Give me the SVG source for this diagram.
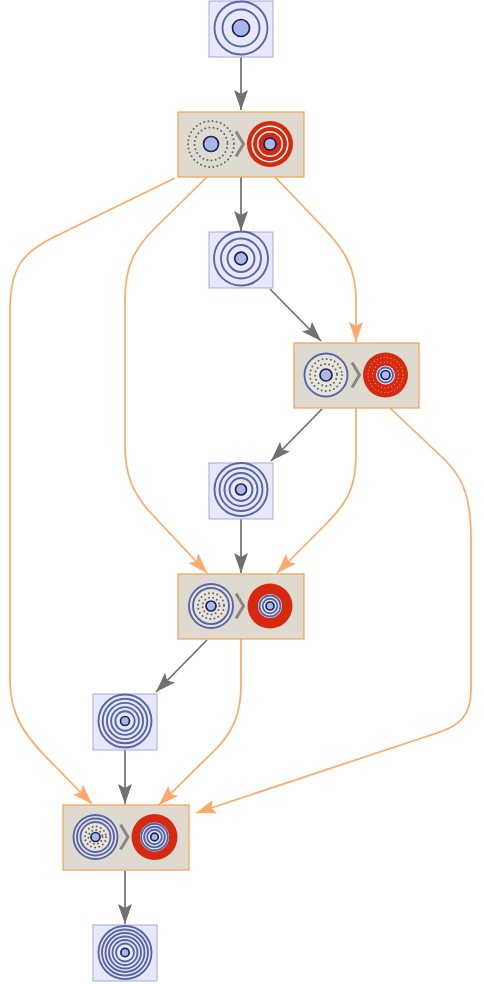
<svg xmlns="http://www.w3.org/2000/svg" width="484" height="984" viewBox="0 0 484 984">
<style>
.sbox{fill:#e7e8fa;stroke:#a3acdb;stroke-width:1}
.ring{fill:none;stroke:#5865a8;stroke-width:1.9}
.core{fill:#a9b8e8;stroke:#1b2556;stroke-width:1.7}
.rbox{fill:#dedad0;stroke:#f3a24e;stroke-width:1.2}
.disk{fill:#e6e3da}
.dots{fill:none;stroke:#666666;stroke-width:2;stroke-linecap:round;stroke-dasharray:0 4.2}
.red{fill:#d6290f}
.wring{fill:none;stroke:#ffffff;stroke-width:1.5}
.fdots{fill:none;stroke:#f2a08c;stroke-width:1.2;stroke-linecap:round;stroke-dasharray:0 3.5}
.light{fill:#e8e8f6}
.chev{fill:none;stroke:#888888;stroke-width:3}
.g{fill:none;stroke:#707070;stroke-width:1.7}
.o{fill:none;stroke:#ffa869;stroke-width:1.7}
</style>
<defs>
<marker id="ag" markerUnits="userSpaceOnUse" markerWidth="20" markerHeight="14" viewBox="0 0 20 14" refX="20" refY="7" orient="auto">
<path d="M0,0 L20,7 L0,14 L4,7 Z" fill="#707070"/>
</marker>
<marker id="ao" markerUnits="userSpaceOnUse" markerWidth="20" markerHeight="14" viewBox="0 0 20 14" refX="20" refY="7" orient="auto">
<path d="M0,0 L20,7 L0,14 L4,7 Z" fill="#ffa869"/>
</marker>
</defs>

<g id="connectors">
<path class="g" marker-end="url(#ag)" d="M241,57 L241,110"/>
<path class="g" marker-end="url(#ag)" d="M241,177 L241,231"/>
<path class="g" marker-end="url(#ag)" d="M270,289 L321,341"/>
<path class="g" marker-end="url(#ag)" d="M322,409 L271,461"/>
<path class="g" marker-end="url(#ag)" d="M241,519 L241,573"/>
<path class="g" marker-end="url(#ag)" d="M207,640 L156,692"/>
<path class="g" marker-end="url(#ag)" d="M125,750 L125,804"/>
<path class="g" marker-end="url(#ag)" d="M125,871 L125,924"/>
<path class="o" marker-end="url(#ao)" d="M275,177 L320,224 C345,250 356,268 356,300 L356,342"/>
<path class="o" marker-end="url(#ao)" d="M207,177 L155,228 C135,248 125,265 125,300 L125,445 C125,475 133,492 148,510 L207,573"/>
<path class="o" marker-end="url(#ao)" d="M175,178 L52,238 C25,252 10,265 10,310 L10,680 C10,715 25,735 45,756 L92,804"/>
<path class="o" marker-end="url(#ao)" d="M356,408 L356,455 C356,490 345,505 325,525 L277,573"/>
<path class="o" marker-end="url(#ao)" d="M390,408 L445,460 C465,480 471,500 471,540 L471,690 C471,715 460,725 440,732 L196,813"/>
<path class="o" marker-end="url(#ao)" d="M241,639 L241,685 C241,715 232,733 215,750 L159,805"/>
</g>

<g id="state1">
<rect class="sbox" x="209" y="1" width="64" height="56"/>
<circle class="ring" cx="241" cy="28" r="26.5"/>
<circle class="ring" cx="241" cy="28" r="18.5"/>
<circle class="core" cx="241" cy="28" r="8.5"/>
</g>

<g id="rule1">
<rect class="rbox" x="178" y="112" width="126" height="65"/>
<circle class="dots" cx="211" cy="144" r="23"/>
<circle class="dots" cx="211" cy="144" r="16.5"/>
<circle class="core" cx="211" cy="144" r="7.5"/>
<polyline class="chev" points="236,131.5 243.5,144 236,156.5"/>
<circle class="red" cx="270" cy="144" r="23"/>
<circle class="wring" cx="270" cy="144" r="17.8"/>
<circle class="wring" cx="270" cy="144" r="12.3"/>
<circle class="core" cx="270" cy="144" r="6"/>
</g>

<g id="state2">
<rect class="sbox" x="209" y="232" width="64" height="56"/>
<circle class="ring" cx="241" cy="258.5" r="27"/>
<circle class="ring" cx="241" cy="258.5" r="20"/>
<circle class="ring" cx="241" cy="258.5" r="13.5"/>
<circle class="core" cx="241" cy="258.5" r="6.3"/>
</g>

<g id="rule2">
<rect class="rbox" x="294" y="343" width="125" height="65"/>
<circle class="disk" cx="326" cy="375" r="21.5"/>
<circle class="ring" cx="326" cy="375" r="21.5"/>
<circle class="dots" cx="326" cy="375" r="16"/>
<circle class="dots" cx="326" cy="375" r="11"/>
<circle class="core" cx="326" cy="375" r="6"/>
<polyline class="chev" points="352,362.5 359.5,375 352,387.5"/>
<circle class="red" cx="385.5" cy="375" r="22.5"/>
<circle class="fdots" cx="385.5" cy="375" r="17.5"/>
<circle class="fdots" cx="385.5" cy="375" r="13"/>
<circle class="light" cx="385.5" cy="375" r="9.5"/>
<circle class="ring" cx="385.5" cy="375" r="7.5"/>
<circle class="core" cx="385.5" cy="375" r="4.5"/>
</g>

<g id="state3">
<rect class="sbox" x="209" y="463" width="64" height="56"/>
<circle class="ring" cx="241" cy="489.5" r="26.5"/>
<circle class="ring" cx="241" cy="489.5" r="21.5"/>
<circle class="ring" cx="241" cy="489.5" r="16.5"/>
<circle class="ring" cx="241" cy="489.5" r="11.5"/>
<circle class="core" cx="241" cy="489.5" r="5.5"/>
</g>

<g id="rule3">
<rect class="rbox" x="178" y="574" width="126" height="65"/>
<circle class="disk" cx="211" cy="606" r="22"/>
<circle class="ring" cx="211" cy="606" r="22"/>
<circle class="ring" cx="211" cy="606" r="18"/>
<circle class="dots" cx="211" cy="606" r="13"/>
<circle class="dots" cx="211" cy="606" r="8.5"/>
<circle class="core" cx="211" cy="606" r="5"/>
<polyline class="chev" points="236,593.5 243.5,606 236,618.5"/>
<circle class="red" cx="270" cy="606" r="22.5"/>
<circle class="light" cx="270" cy="606" r="12"/>
<circle class="ring" cx="270" cy="606" r="10.5"/>
<circle class="ring" cx="270" cy="606" r="7.3"/>
<circle class="core" cx="270" cy="606" r="4"/>
</g>

<g id="state4">
<rect class="sbox" x="93" y="694" width="64" height="56"/>
<circle class="ring" cx="125" cy="721" r="26.5"/>
<circle class="ring" cx="125" cy="721" r="22.3"/>
<circle class="ring" cx="125" cy="721" r="18.1"/>
<circle class="ring" cx="125" cy="721" r="13.9"/>
<circle class="ring" cx="125" cy="721" r="9.7"/>
<circle class="core" cx="125" cy="721" r="4.5"/>
</g>

<g id="rule4">
<rect class="rbox" x="63" y="805" width="126" height="65"/>
<circle class="disk" cx="95.5" cy="837" r="22"/>
<circle class="ring" cx="95.5" cy="837" r="22"/>
<circle class="ring" cx="95.5" cy="837" r="18.5"/>
<circle class="ring" cx="95.5" cy="837" r="15"/>
<circle class="dots" cx="95.5" cy="837" r="10.5"/>
<circle class="dots" cx="95.5" cy="837" r="7"/>
<circle class="core" cx="95.5" cy="837" r="4.5"/>
<polyline class="chev" points="120.5,824.5 128,837 120.5,849.5"/>
<circle class="red" cx="154.5" cy="837" r="23"/>
<circle class="light" cx="154.5" cy="837" r="14.5"/>
<circle class="ring" cx="154.5" cy="837" r="13.3"/>
<circle class="ring" cx="154.5" cy="837" r="10.3"/>
<circle class="ring" cx="154.5" cy="837" r="7.3"/>
<circle class="core" cx="154.5" cy="837" r="3.8"/>
</g>

<g id="state5">
<rect class="sbox" x="93" y="925" width="64" height="56"/>
<circle class="ring" cx="125" cy="952.5" r="26.5"/>
<circle class="ring" cx="125" cy="952.5" r="23"/>
<circle class="ring" cx="125" cy="952.5" r="19.5"/>
<circle class="ring" cx="125" cy="952.5" r="16"/>
<circle class="ring" cx="125" cy="952.5" r="12.5"/>
<circle class="ring" cx="125" cy="952.5" r="9"/>
<circle class="core" cx="125" cy="952.5" r="4.2"/>
</g>
</svg>
